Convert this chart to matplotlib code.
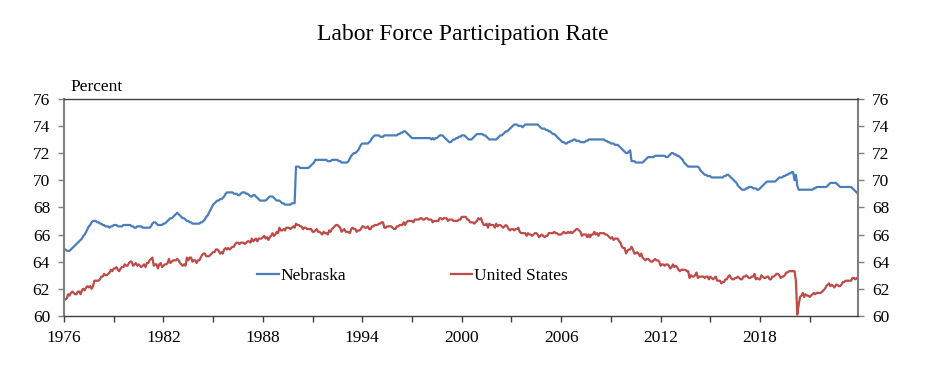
import numpy as np
import matplotlib
matplotlib.use("Agg")
import matplotlib.pyplot as plt

plt.rcParams['font.family'] = ['Liberation Serif', 'DejaVu Serif']

title = "Labor Force Participation Rate"
unit_label = "Percent"
series_names = ["Nebraska", "United States"]
start_year = 1976
label_years = [1976, 1982, 1988, 1994, 2000, 2006, 2012, 2018]
y_ticks = [60, 62, 64, 66, 68, 70, 72, 74, 76]

# monthly values, Jan 1976 - Dec 2023
nebraska = [
    64.9, 64.9, 64.8, 64.8, 64.8, 64.9, 65.0, 65.1, 65.2, 65.3, 65.4, 65.5,  # 1976
    65.6, 65.7, 65.9, 66.0, 66.2, 66.4, 66.6, 66.7, 66.9, 67.0, 67.0, 67.0,  # 1977
    66.9, 66.9, 66.8, 66.8, 66.7, 66.7, 66.6, 66.6, 66.6, 66.5, 66.6, 66.6,  # 1978
    66.7, 66.7, 66.7, 66.6, 66.6, 66.6, 66.6, 66.7, 66.7, 66.7, 66.7, 66.7,  # 1979
    66.7, 66.6, 66.6, 66.5, 66.5, 66.6, 66.6, 66.6, 66.6, 66.5, 66.5, 66.5,  # 1980
    66.5, 66.5, 66.5, 66.6, 66.8, 66.9, 66.9, 66.8, 66.7, 66.7, 66.7, 66.7,  # 1981
    66.8, 66.8, 66.9, 67.0, 67.1, 67.2, 67.2, 67.3, 67.4, 67.5, 67.6, 67.5,  # 1982
    67.4, 67.3, 67.2, 67.2, 67.1, 67.0, 67.0, 66.9, 66.9, 66.8, 66.8, 66.8,  # 1983
    66.8, 66.8, 66.8, 66.9, 66.9, 67.0, 67.1, 67.3, 67.4, 67.6, 67.8, 68.0,  # 1984
    68.2, 68.3, 68.4, 68.5, 68.5, 68.6, 68.6, 68.7, 68.8, 69.0, 69.1, 69.1,  # 1985
    69.1, 69.1, 69.1, 69.0, 69.0, 69.0, 68.9, 68.9, 69.0, 69.1, 69.1, 69.1,  # 1986
    69.0, 69.0, 68.9, 68.8, 68.8, 68.9, 68.9, 68.8, 68.7, 68.6, 68.5, 68.5,  # 1987
    68.5, 68.5, 68.5, 68.6, 68.7, 68.8, 68.8, 68.8, 68.7, 68.6, 68.5, 68.5,  # 1988
    68.5, 68.4, 68.3, 68.3, 68.2, 68.2, 68.2, 68.2, 68.2, 68.3, 68.3, 68.3,  # 1989
    71.0, 71.0, 71.0, 70.9, 70.9, 70.9, 70.9, 70.9, 70.9, 70.9, 71.0, 71.1,  # 1990
    71.2, 71.3, 71.5, 71.5, 71.5, 71.5, 71.5, 71.5, 71.5, 71.5, 71.5, 71.4,  # 1991
    71.4, 71.4, 71.5, 71.5, 71.5, 71.5, 71.5, 71.4, 71.4, 71.3, 71.3, 71.3,  # 1992
    71.3, 71.3, 71.4, 71.6, 71.8, 71.9, 72.0, 72.0, 72.1, 72.2, 72.4, 72.6,  # 1993
    72.7, 72.7, 72.7, 72.7, 72.7, 72.8, 72.9, 73.1, 73.2, 73.3, 73.3, 73.3,  # 1994
    73.3, 73.2, 73.2, 73.2, 73.3, 73.3, 73.3, 73.3, 73.3, 73.3, 73.3, 73.3,  # 1995
    73.3, 73.3, 73.4, 73.4, 73.5, 73.5, 73.6, 73.6, 73.5, 73.4, 73.3, 73.2,  # 1996
    73.1, 73.1, 73.1, 73.1, 73.1, 73.1, 73.1, 73.1, 73.1, 73.1, 73.1, 73.1,  # 1997
    73.1, 73.1, 73.0, 73.1, 73.0, 73.1, 73.1, 73.2, 73.3, 73.3, 73.3, 73.2,  # 1998
    73.1, 73.0, 72.9, 72.8, 72.8, 72.9, 73.0, 73.0, 73.1, 73.1, 73.2, 73.2,  # 1999
    73.3, 73.3, 73.3, 73.2, 73.1, 73.0, 73.0, 73.0, 73.1, 73.2, 73.3, 73.4,  # 2000
    73.4, 73.4, 73.4, 73.4, 73.3, 73.3, 73.2, 73.1, 73.0, 73.0, 73.0, 73.0,  # 2001
    73.0, 73.0, 73.1, 73.2, 73.3, 73.3, 73.4, 73.5, 73.6, 73.6, 73.7, 73.8,  # 2002
    73.9, 74.0, 74.1, 74.1, 74.1, 74.0, 74.0, 74.0, 73.9, 74.0, 74.1, 74.1,  # 2003
    74.1, 74.1, 74.1, 74.1, 74.1, 74.1, 74.1, 74.1, 74.0, 73.9, 73.8, 73.8,  # 2004
    73.8, 73.7, 73.7, 73.6, 73.6, 73.5, 73.4, 73.4, 73.3, 73.2, 73.1, 73.0,  # 2005
    72.9, 72.8, 72.8, 72.7, 72.7, 72.8, 72.8, 72.9, 72.9, 73.0, 73.0, 72.9,  # 2006
    72.9, 72.9, 72.8, 72.8, 72.8, 72.8, 72.9, 72.9, 73.0, 73.0, 73.0, 73.0,  # 2007
    73.0, 73.0, 73.0, 73.0, 73.0, 73.0, 73.0, 73.0, 72.9, 72.9, 72.8, 72.8,  # 2008
    72.7, 72.7, 72.7, 72.6, 72.6, 72.6, 72.5, 72.4, 72.3, 72.2, 72.1, 72.0,  # 2009
    72.0, 72.1, 72.2, 71.4, 71.4, 71.4, 71.3, 71.3, 71.3, 71.3, 71.3, 71.3,  # 2010
    71.4, 71.5, 71.6, 71.7, 71.7, 71.7, 71.7, 71.7, 71.8, 71.8, 71.8, 71.8,  # 2011
    71.8, 71.8, 71.8, 71.8, 71.7, 71.7, 71.8, 71.9, 72.0, 72.0, 71.9, 71.9,  # 2012
    71.8, 71.8, 71.7, 71.6, 71.5, 71.3, 71.2, 71.1, 71.0, 71.0, 71.0, 71.0,  # 2013
    71.0, 71.0, 71.0, 71.0, 70.9, 70.7, 70.6, 70.5, 70.4, 70.4, 70.3, 70.3,  # 2014
    70.3, 70.2, 70.2, 70.2, 70.2, 70.2, 70.2, 70.2, 70.2, 70.2, 70.3, 70.3,  # 2015
    70.4, 70.4, 70.3, 70.2, 70.1, 70.0, 69.9, 69.8, 69.6, 69.5, 69.4, 69.3,  # 2016
    69.3, 69.3, 69.4, 69.4, 69.5, 69.5, 69.5, 69.4, 69.4, 69.4, 69.3, 69.3,  # 2017
    69.4, 69.5, 69.6, 69.7, 69.8, 69.9, 69.9, 69.9, 69.9, 69.9, 69.9, 69.9,  # 2018
    70.0, 70.1, 70.2, 70.2, 70.2, 70.3, 70.3, 70.4, 70.4, 70.5, 70.5, 70.6,  # 2019
    70.6, 70.0, 70.4, 69.6, 69.3, 69.3, 69.3, 69.3, 69.3, 69.3, 69.3, 69.3,  # 2020
    69.3, 69.3, 69.3, 69.4, 69.4, 69.5, 69.5, 69.5, 69.5, 69.5, 69.5, 69.5,  # 2021
    69.5, 69.6, 69.7, 69.8, 69.8, 69.8, 69.8, 69.8, 69.7, 69.6, 69.5, 69.5,  # 2022
    69.5, 69.5, 69.5, 69.5, 69.5, 69.5, 69.5, 69.4, 69.3, 69.2, 69.1, 69.0,  # 2023
]

united_states = [
    61.3, 61.2, 61.3, 61.6, 61.5, 61.7, 61.8, 61.7, 61.6, 61.6, 61.8, 61.8,  # 1976
    61.6, 61.9, 62.0, 61.9, 62.1, 62.2, 62.1, 62.2, 62.0, 62.2, 62.6, 62.6,  # 1977
    62.6, 62.6, 62.7, 62.9, 62.9, 63.1, 63.0, 63.0, 63.1, 63.2, 63.4, 63.3,  # 1978
    63.5, 63.5, 63.6, 63.4, 63.3, 63.5, 63.6, 63.6, 63.8, 63.7, 63.7, 63.9,  # 1979
    64.0, 64.0, 63.7, 63.8, 63.9, 63.7, 63.8, 63.7, 63.6, 63.7, 63.8, 63.6,  # 1980
    63.9, 63.9, 64.1, 64.2, 64.3, 63.7, 63.8, 63.8, 63.5, 63.8, 63.9, 63.6,  # 1981
    63.7, 63.8, 63.8, 63.9, 64.2, 63.9, 64.0, 64.1, 64.1, 64.1, 64.2, 64.1,  # 1982
    63.9, 63.8, 63.7, 63.8, 63.7, 64.3, 64.1, 64.3, 64.3, 64.0, 64.1, 64.1,  # 1983
    63.9, 64.1, 64.1, 64.3, 64.5, 64.6, 64.6, 64.4, 64.4, 64.4, 64.5, 64.6,  # 1984
    64.7, 64.7, 64.9, 64.9, 64.8, 64.6, 64.7, 64.6, 64.9, 65.0, 64.9, 65.0,  # 1985
    64.9, 65.0, 65.1, 65.1, 65.3, 65.4, 65.4, 65.3, 65.4, 65.4, 65.4, 65.3,  # 1986
    65.4, 65.5, 65.5, 65.4, 65.7, 65.5, 65.6, 65.7, 65.5, 65.7, 65.7, 65.7,  # 1987
    65.8, 65.9, 65.7, 65.8, 65.6, 65.8, 65.9, 66.1, 65.9, 66.0, 66.2, 66.1,  # 1988
    66.5, 66.3, 66.3, 66.4, 66.3, 66.5, 66.5, 66.5, 66.4, 66.5, 66.6, 66.5,  # 1989
    66.8, 66.7, 66.7, 66.6, 66.6, 66.4, 66.5, 66.5, 66.4, 66.4, 66.4, 66.4,  # 1990
    66.2, 66.2, 66.3, 66.4, 66.2, 66.2, 66.1, 66.0, 66.2, 66.1, 66.1, 66.0,  # 1991
    66.3, 66.2, 66.4, 66.5, 66.6, 66.7, 66.7, 66.6, 66.5, 66.2, 66.3, 66.4,  # 1992
    66.2, 66.2, 66.2, 66.1, 66.4, 66.5, 66.4, 66.4, 66.2, 66.3, 66.3, 66.4,  # 1993
    66.6, 66.6, 66.5, 66.5, 66.6, 66.4, 66.4, 66.6, 66.6, 66.7, 66.7, 66.7,  # 1994
    66.8, 66.8, 66.9, 66.9, 66.5, 66.5, 66.6, 66.6, 66.6, 66.6, 66.5, 66.4,  # 1995
    66.4, 66.6, 66.6, 66.7, 66.7, 66.7, 66.9, 66.7, 66.9, 67.0, 67.0, 67.0,  # 1996
    67.0, 66.9, 67.1, 67.1, 67.1, 67.1, 67.2, 67.2, 67.1, 67.1, 67.2, 67.2,  # 1997
    67.1, 67.1, 67.1, 66.9, 67.0, 67.0, 67.0, 67.0, 67.2, 67.2, 67.1, 67.2,  # 1998
    67.2, 67.2, 67.0, 67.1, 67.1, 67.1, 67.0, 67.0, 67.0, 67.0, 67.1, 67.1,  # 1999
    67.3, 67.3, 67.3, 67.3, 67.1, 67.1, 66.9, 66.9, 66.9, 66.8, 66.9, 67.0,  # 2000
    67.2, 67.1, 67.2, 66.9, 66.7, 66.7, 66.8, 66.5, 66.8, 66.7, 66.7, 66.7,  # 2001
    66.5, 66.8, 66.6, 66.7, 66.7, 66.6, 66.5, 66.6, 66.7, 66.6, 66.4, 66.3,  # 2002
    66.4, 66.4, 66.3, 66.4, 66.4, 66.5, 66.2, 66.1, 66.1, 66.1, 66.1, 65.9,  # 2003
    66.1, 66.0, 66.0, 65.9, 66.0, 66.1, 66.1, 66.0, 65.8, 65.9, 66.0, 65.9,  # 2004
    65.8, 65.9, 65.9, 66.1, 66.1, 66.1, 66.1, 66.2, 66.1, 66.1, 66.0, 66.0,  # 2005
    66.0, 66.1, 66.2, 66.1, 66.1, 66.2, 66.1, 66.2, 66.1, 66.2, 66.3, 66.4,  # 2006
    66.4, 66.3, 66.2, 65.9, 66.0, 66.0, 66.0, 65.8, 66.0, 65.8, 66.0, 66.0,  # 2007
    66.2, 66.0, 66.1, 65.9, 66.1, 66.1, 66.1, 66.1, 66.0, 66.0, 65.9, 65.8,  # 2008
    65.7, 65.8, 65.6, 65.7, 65.7, 65.7, 65.5, 65.4, 65.1, 65.0, 65.0, 64.6,  # 2009
    64.8, 64.9, 64.9, 65.1, 64.9, 64.6, 64.6, 64.7, 64.6, 64.4, 64.6, 64.3,  # 2010
    64.2, 64.1, 64.2, 64.2, 64.1, 64.0, 64.0, 64.1, 64.2, 64.1, 64.1, 64.0,  # 2011
    63.7, 63.8, 63.8, 63.7, 63.8, 63.8, 63.7, 63.5, 63.6, 63.8, 63.6, 63.7,  # 2012
    63.6, 63.4, 63.3, 63.4, 63.4, 63.4, 63.4, 63.3, 63.3, 62.8, 63.0, 62.9,  # 2013
    62.9, 63.0, 63.2, 62.8, 62.9, 62.9, 62.9, 62.9, 62.8, 62.9, 62.9, 62.7,  # 2014
    62.9, 62.8, 62.7, 62.8, 62.9, 62.6, 62.6, 62.6, 62.4, 62.5, 62.5, 62.7,  # 2015
    62.7, 62.9, 63.0, 62.8, 62.7, 62.7, 62.8, 62.8, 62.9, 62.8, 62.7, 62.7,  # 2016
    62.9, 62.9, 63.0, 62.9, 62.8, 62.8, 62.9, 62.9, 63.1, 62.7, 62.8, 62.7,  # 2017
    62.7, 63.0, 62.9, 62.8, 62.8, 62.9, 62.9, 62.7, 62.7, 62.9, 62.9, 63.0,  # 2018
    63.1, 63.1, 63.0, 62.8, 62.9, 62.9, 63.0, 63.2, 63.2, 63.3, 63.3, 63.3,  # 2019
    63.3, 63.3, 62.6, 60.1, 60.8, 61.4, 61.5, 61.7, 61.4, 61.6, 61.5, 61.5,  # 2020
    61.4, 61.5, 61.6, 61.7, 61.6, 61.7, 61.7, 61.7, 61.7, 61.8, 61.9, 62.0,  # 2021
    62.2, 62.3, 62.4, 62.2, 62.3, 62.2, 62.1, 62.3, 62.3, 62.2, 62.2, 62.3,  # 2022
    62.5, 62.5, 62.6, 62.6, 62.6, 62.6, 62.6, 62.8, 62.8, 62.7, 62.8, 62.7,  # 2023
]

colors = ["#4A7EBB", "#BE4B48"]

n = len(nebraska)
x = start_year + np.arange(n) / 12.0

fig = plt.figure(figsize=(9.25, 3.67), dpi=100)
ax = fig.add_axes([0.0692, 0.139, 0.8584, 0.592])

for vals, c, name in zip([nebraska, united_states], colors, series_names):
    ax.plot(x[:len(vals)], vals, color=c, lw=1.6, label=name, solid_joinstyle='round')

ax.set_xlim(x[0], x[-1])
ax.set_ylim(y_ticks[0], y_ticks[-1])

# x ticks every 3 years, labels every 6 years
tick_pos = np.arange(start_year, x[-1] + 0.01, 3)
ax.set_xticks(tick_pos)
ax.set_xticklabels([str(int(t)) if int(t) in label_years else "" for t in tick_pos])
ax.set_yticks(y_ticks)
ax.set_yticklabels([str(v) for v in y_ticks])

ax.tick_params(axis='x', direction='out', length=4, width=1, color='#404040',
               labelsize=12.5, pad=6, labelcolor='black')
ax.tick_params(axis='y', direction='out', length=4, width=1, color='#7f7f7f',
               labelsize=12.5, pad=6, labelcolor='black', left=True, right=True,
               labelleft=True, labelright=True)

for side in ['top', 'bottom']:
    ax.spines[side].set_color('#404040')
    ax.spines[side].set_linewidth(1.0)
for side in ['left', 'right']:
    ax.spines[side].set_color('#7f7f7f')
    ax.spines[side].set_linewidth(1.5)

ax.legend(loc='center left', bbox_to_anchor=(0.243, 0.184), ncol=2, frameon=False,
          fontsize=12.5, handlelength=1.25, handletextpad=0.12, columnspacing=6.0,
          borderpad=0, borderaxespad=0)

ax.text(0.008, 1.015, unit_label, transform=ax.transAxes, fontsize=12.5,
        ha='left', va='bottom')
fig.text(0.5, 0.905, title, fontsize=17, ha='center', va='center')

fig.savefig("out.png", dpi=100)
